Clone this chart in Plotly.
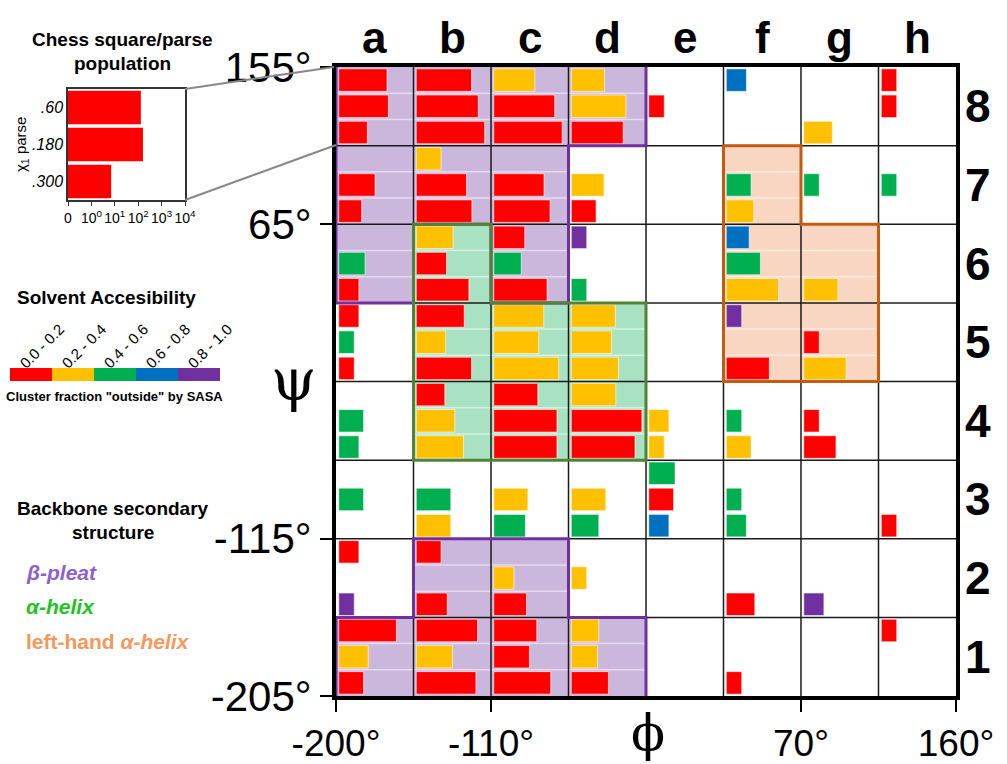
import math
import plotly.graph_objects as go

# ---------------- data ----------------
files = list("abcdefgh")
ranks = [8, 7, 6, 5, 4, 3, 2, 1]
parse_labels = [".60", ".180", ".300"]
sasa_labels = ["0.0 - 0.2", "0.2 - 0.4", "0.4 - 0.6", "0.6 - 0.8", "0.8 - 1.0"]
sasa_colors = ["#FF0000", "#FFC000", "#00B050", "#0070C0", "#7030A0"]
phi_ticks = [-200, -110, 70, 160]
psi_ticks = [-205, -115, 65, 155]
pop_ticks = ["0", "10<sup>0</sup>", "10<sup>1</sup>", "10<sup>2</sup>", "10<sup>3</sup>", "10<sup>4</sup>"]

# populations per chess square (rows = rank 8..1, cols = file a..h), 0 = empty
pop_60 = [
    [130, 370, 45, 14, 0, 2, 0, 1],
    [0, 4, 0, 0, 0, 0, 0, 0],
    [0, 24, 10, 1, 0, 3, 0, 0],
    [2, 125, 170, 70, 0, 1, 0, 0],
    [0, 7, 70, 75, 0, 0, 0, 0],
    [0, 0, 0, 0, 5, 0, 0, 0],
    [2, 4, 0, 0, 0, 0, 0, 0],
    [525, 900, 60, 6, 0, 0, 0, 1],
]
pop_180 = [
    [160, 1000, 860, 340, 1, 0, 0, 1],
    [22, 175, 175, 13, 0, 4, 1, 1],
    [5, 9, 6, 0, 0, 16, 0, 0],
    [1, 8, 80, 40, 0, 0, 1, 0],
    [4, 31, 1200, 3600, 2, 1, 1, 0],
    [4, 17, 16, 17, 4, 1, 0, 0],
    [0, 0, 2, 1, 0, 0, 0, 0],
    [8, 22, 20, 5, 0, 0, 0, 0],
]
pop_300 = [
    [7, 2600, 2600, 225, 0, 0, 7, 0],
    [3, 390, 430, 4, 0, 6, 0, 0],
    [2, 250, 275, 1, 0, 235, 16, 0],
    [1, 370, 1550, 113, 0, 60, 55, 0],
    [2, 113, 1200, 1300, 1, 4, 12, 0],
    [0, 17, 11, 6, 2, 2, 0, 1],
    [1, 10, 13, 0, 0, 7, 2, 0],
    [4, 710, 475, 25, 0, 1, 0, 0],
]
# solvent accessibility class (index into sasa_labels)
sasa_60 = [
    [0, 0, 1, 1, 0, 3, 0, 0],
    [0, 1, 0, 0, 0, 0, 0, 0],
    [0, 1, 0, 4, 0, 3, 0, 0],
    [0, 0, 1, 1, 0, 4, 0, 0],
    [0, 0, 0, 1, 0, 0, 0, 0],
    [0, 0, 0, 0, 2, 0, 0, 0],
    [0, 0, 0, 0, 0, 0, 0, 0],
    [0, 0, 0, 1, 0, 0, 0, 0],
]
sasa_180 = [
    [0, 0, 0, 1, 0, 0, 0, 0],
    [0, 0, 0, 1, 0, 2, 2, 2],
    [2, 0, 2, 0, 0, 2, 0, 0],
    [2, 1, 1, 1, 0, 0, 0, 0],
    [2, 1, 0, 0, 1, 2, 0, 0],
    [2, 2, 1, 1, 0, 2, 0, 0],
    [0, 0, 1, 1, 0, 0, 0, 0],
    [1, 1, 0, 1, 0, 0, 0, 0],
]
sasa_300 = [
    [0, 0, 0, 0, 0, 0, 1, 0],
    [0, 0, 0, 0, 0, 1, 0, 0],
    [0, 0, 0, 2, 0, 1, 1, 0],
    [0, 0, 1, 1, 0, 0, 1, 0],
    [2, 1, 0, 0, 1, 1, 0, 0],
    [0, 1, 2, 2, 3, 2, 0, 0],
    [4, 0, 0, 0, 0, 0, 4, 0],
    [0, 0, 0, 0, 0, 0, 0, 0],
]
# backbone secondary structure per square: B beta, A alpha, L left-hand alpha
sec_struct = [
    "BBBB....",
    "BBB..L..",
    "BAB..LL.",
    ".AAA.LL.",
    ".AAA....",
    "........",
    ".BB.....",
    "BBBB....",
]
ss_fill = {"B": "#CBB6DC", "A": "#A8E2C3", "L": "#F8D6C2"}
ss_line = {"B": "#7030A0", "A": "#548235", "L": "#C55A11"}

# ---------------- geometry helpers ----------------
W, H = 1007, 764
def fx(p): return p / W
def fy(p): return 1 - p / H

PHI0, PSI0, STEP = -200, -205, 45
SUB = STEP / 3
SANS = "Liberation Sans, Arial, sans-serif"
SERIF = "DejaVu Serif, Liberation Serif, serif"

def bar_len(n):  # log scale: 0 .. 10^4 over one square (5 decades incl. 0)
    return (math.log10(n) + 1) * STEP / 5

fig = go.Figure()

parses = [(pop_60, sasa_60, 2.5 * SUB), (pop_180, sasa_180, 1.5 * SUB), (pop_300, sasa_300, 0.5 * SUB)]
for k, color in enumerate(sasa_colors):
    xs, ys, bases = [], [], []
    for pops, sasa, off in parses:
        for i, r in enumerate(ranks):
            for j in range(8):
                n = pops[i][j]
                if n > 0 and sasa[i][j] == k:
                    xs.append(bar_len(n))
                    bases.append(PHI0 + STEP * j + 1.6)
                    ys.append(PSI0 + STEP * (r - 1) + off)
    fig.add_trace(go.Bar(orientation="h", x=xs, y=ys, base=bases, width=SUB * 0.86,
                         marker=dict(color=color, line=dict(color="rgba(255,255,255,0.6)", width=1)),
                         xaxis="x", yaxis="y", hoverinfo="skip", showlegend=False))

# inset example: square a8
ex_vals = [pop_60[0][0], pop_180[0][0], pop_300[0][0]]
fig.add_trace(go.Bar(orientation="h", x=[math.log10(v) + 1 for v in ex_vals], y=[2, 1, 0], width=0.9,
                     marker=dict(color=sasa_colors[0], line=dict(width=0)),
                     xaxis="x2", yaxis="y2", hoverinfo="skip", showlegend=False))

shapes = []
# shading
for i, r in enumerate(ranks):
    for j in range(8):
        c = sec_struct[i][j]
        if c == ".":
            continue
        x0 = PHI0 + STEP * j
        y0 = PSI0 + STEP * (r - 1)
        shapes.append(dict(type="rect", xref="x", yref="y", x0=x0, x1=x0 + STEP, y0=y0, y1=y0 + STEP,
                           fillcolor=ss_fill[c], line=dict(width=0), layer="below"))
        for s in (1, 2):
            shapes.append(dict(type="line", xref="x", yref="y", x0=x0, x1=x0 + STEP, y0=y0 + s * SUB,
                               y1=y0 + s * SUB, line=dict(color="rgba(255,255,255,0.5)", width=1.5),
                               layer="below"))
# grid
for g in range(1, 8):
    shapes.append(dict(type="line", xref="x", yref="y", x0=PHI0 + STEP * g, x1=PHI0 + STEP * g,
                       y0=PSI0, y1=PSI0 + 8 * STEP, line=dict(color="#1a1a1a", width=1.5), layer="below"))
    shapes.append(dict(type="line", xref="x", yref="y", x0=PHI0, x1=PHI0 + 8 * STEP,
                       y0=PSI0 + STEP * g, y1=PSI0 + STEP * g, line=dict(color="#1a1a1a", width=1.5),
                       layer="below"))
# region outlines
ext = 0.8
for cls in ("B", "A", "L"):
    path = ""
    for i, r in enumerate(ranks):
        for j in range(8):
            if sec_struct[i][j] != cls:
                continue
            x0 = PHI0 + STEP * j; x1 = x0 + STEP
            y0 = PSI0 + STEP * (r - 1); y1 = y0 + STEP
            def other(ii, jj):
                if ii < 0 or ii > 7 or jj < 0 or jj > 7:
                    return True
                return sec_struct[ii][jj] != cls
            if other(i - 1, j) and i > 0:
                path += f"M{x0 - ext},{y1} L{x1 + ext},{y1} "
            if other(i + 1, j) and i < 7:
                path += f"M{x0 - ext},{y0} L{x1 + ext},{y0} "
            if other(i, j - 1):
                path += f"M{x0},{y0 - ext} L{x0},{y1 + ext} "
            if other(i, j + 1):
                path += f"M{x1},{y0 - ext} L{x1},{y1 + ext} "
    shapes.append(dict(type="path", xref="x", yref="y", path=path,
                       line=dict(color=ss_line[cls], width=3), layer="above"))

# connector lines from inset to square a8
shapes.append(dict(type="line", xref="paper", yref="paper", x0=fx(185), y0=fy(89), x1=fx(334), y1=fy(67),
                   line=dict(color="#888888", width=2)))
shapes.append(dict(type="line", xref="paper", yref="paper", x0=fx(185), y0=fy(200), x1=fx(336), y1=fy(145),
                   line=dict(color="#888888", width=2)))


def note(x, y, text, size, color="black", family=SANS, xref="paper", yref="paper", angle=0, xanchor="center"):
    return dict(xref=xref, yref=yref, x=x, y=y, text=text, textangle=angle, showarrow=False,
                xanchor=xanchor, yanchor="middle", font=dict(family=family, size=size, color=color))


# solvent accessibility colour key
annotations = []
for k, color in enumerate(sasa_colors):
    shapes.append(dict(type="rect", xref="paper", yref="paper", x0=fx(10 + 42 * k), x1=fx(52 + 42 * k),
                       y0=fy(381), y1=fy(368), fillcolor=color, line=dict(width=0)))
    annotations.append(note(fx(41 + 42 * k), fy(346), sasa_labels[k], 15, angle=-45))

# file / rank labels
for j, f in enumerate(files):
    annotations.append(note(PHI0 + STEP * j + STEP / 2, fy(38), f"<b>{f}</b>", 44, xref="x"))
for r in ranks:
    annotations.append(note(fx(978), PSI0 + STEP * (r - 1) + STEP / 2, f"<b>{r}</b>", 46, yref="y"))

annotations += [
    note(fx(293), fy(380), "ψ", 58, family=SERIF),
    note(fx(648), fy(733), "ϕ", 50, family=SERIF),
    note(fx(122), fy(40), "<b>Chess square/parse</b>", 19),
    note(fx(122), fy(64), "<b>population</b>", 19),
    note(fx(21), fy(145), "χ<sub>1</sub> parse", 15, angle=-90),
    note(fx(106), fy(298), "<b>Solvent Accesibility</b>", 19),
    note(fx(114), fy(396), "<b>Cluster fraction \"outside\" by SASA</b>", 13),
    note(fx(113), fy(508), "<b>Backbone secondary</b>", 19),
    note(fx(113), fy(532), "<b>structure</b>", 19),
    note(fx(24), fy(572), "<b><i>β-pleat</i></b>", 21, color="#8E5FD2", xanchor="left"),
    note(fx(24), fy(606), "<b><i>α-helix</i></b>", 21, color="#1EC41E", xanchor="left"),
    note(fx(24), fy(641), "<b>left-hand <i>α-helix</i></b>", 21, color="#F7975C", xanchor="left"),
]

fig.update_layout(
    width=W, height=H, margin=dict(l=0, r=0, t=0, b=0, autoexpand=False),
    paper_bgcolor="white", plot_bgcolor="white", showlegend=False, barmode="overlay",
    shapes=shapes, annotations=annotations,
    xaxis=dict(domain=[fx(336), fx(956)], anchor="y", range=[PHI0, PHI0 + 8 * STEP], automargin=False,
               tickvals=phi_ticks, ticktext=[f"{v}°" for v in phi_ticks], ticks="outside", ticklen=12,
               tickwidth=2, tickcolor="black", showline=True, linewidth=4, linecolor="black", mirror=True,
               showgrid=False, zeroline=False, tickangle=0, layer="below traces",
               tickfont=dict(family=SANS, size=37, color="black")),
    yaxis=dict(domain=[fy(696), fy(67)], anchor="x", range=[PSI0, PSI0 + 8 * STEP], automargin=False,
               tickvals=psi_ticks, ticktext=[f"{v}°" for v in psi_ticks], ticks="outside", ticklen=12,
               tickwidth=2, tickcolor="black", showline=True, linewidth=4, linecolor="black", mirror=True,
               showgrid=False, zeroline=False, layer="below traces",
               tickfont=dict(family=SANS, size=42, color="black")),
    xaxis2=dict(domain=[fx(68), fx(185)], anchor="y2", range=[0, 5], tickvals=list(range(6)), automargin=False,
                ticktext=pop_ticks, ticks="outside", ticklen=4, tickcolor="#333", showline=True, tickangle=0,
                linewidth=1.5, linecolor="#333", mirror=True, showgrid=False, zeroline=False,
                tickfont=dict(family=SANS, size=14, color="black")),
    yaxis2=dict(domain=[fy(200), fy(89)], anchor="x2", range=[-0.5, 2.5], tickvals=[2, 1, 0], automargin=False,
                ticktext=parse_labels, ticks="", showline=True, linewidth=1.5, linecolor="#333", mirror=True,
                showgrid=False, zeroline=False,
                tickfont=dict(family=SANS, size=16, color="black", style="italic")),
)

fig.write_html("out.html")
